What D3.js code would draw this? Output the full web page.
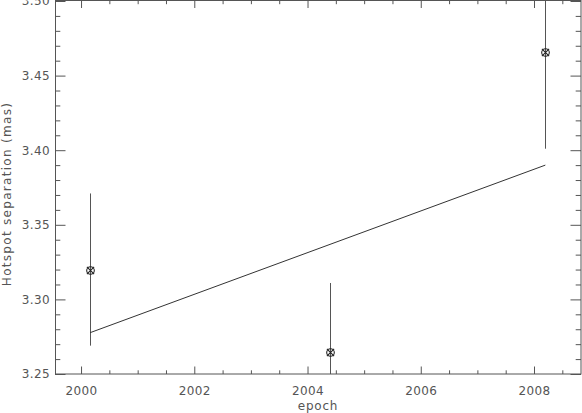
<!DOCTYPE html>
<html>
<head>
<meta charset="utf-8">
<script src="https://cdn.jsdelivr.net/npm/d3@7"></script>
<style>
  body { margin: 0; background: #fff; }
  text { font-family: "DejaVu Sans", sans-serif; }
</style>
</head>
<body>
<svg id="chart" width="582" height="413"></svg>
<script>
// measured hotspot separations
const epochs = [2000.16, 2004.40, 2008.20];
const separations = [3.320, 3.265, 3.466];
const errors = [0.051, 0.046, 0.065];

// linear fit, drawn between first and last epoch
const fitEpochs = [2000.16, 2008.20];
const fitValues = [3.2777, 3.390];

const xMajor = [2000, 2002, 2004, 2006, 2008];
const yMajor = [3.25, 3.30, 3.35, 3.40, 3.45, 3.50];

const plotLeft = 55, plotRight = 581, plotTop = 1, plotBottom = 374;
const axisColor = "#555";

const svg = d3.select("#chart");

const xScale = d3.scaleLinear()
  .domain([1999.54, 2008.83])
  .range([plotLeft, plotRight]);

const yScale = d3.scaleLinear()
  .domain([3.25, 3.50])
  .range([plotBottom, plotTop]);

const xMinor = d3.range(1999.5, 2009, 0.5).filter(v => xMajor.indexOf(v) < 0 && v > 1999.54 && v < 2008.83);
const yMinor = d3.range(3.26, 3.50, 0.01).map(v => +v.toFixed(2)).filter(v => yMajor.indexOf(v) < 0);

svg.append("clipPath")
  .attr("id", "plot-clip")
  .append("rect")
  .attr("x", plotLeft)
  .attr("y", 0)
  .attr("width", plotRight - plotLeft)
  .attr("height", plotBottom);

function styleAxis(g) {
  g.select(".domain").remove();
  g.selectAll("line").attr("stroke", axisColor);
  g.selectAll("text")
    .attr("fill", axisColor)
    .style("font-size", "12px")
    .style("letter-spacing", "0.4px");
}

// bottom axis
svg.append("g")
  .attr("transform", `translate(0, ${plotBottom})`)
  .call(d3.axisBottom(xScale).tickValues(xMajor).tickFormat(d3.format("d"))
    .tickSizeInner(-7.5).tickSizeOuter(0).tickPadding(12))
  .call(styleAxis);
svg.append("g")
  .attr("transform", `translate(0, ${plotBottom})`)
  .call(d3.axisBottom(xScale).tickValues(xMinor).tickFormat("")
    .tickSizeInner(-3.7).tickSizeOuter(0))
  .call(styleAxis);

// top axis
svg.append("g")
  .attr("transform", `translate(0, 0.5)`)
  .call(d3.axisTop(xScale).tickValues(xMajor).tickFormat("")
    .tickSizeInner(-7.5).tickSizeOuter(0))
  .call(styleAxis);
svg.append("g")
  .attr("transform", `translate(0, 0.5)`)
  .call(d3.axisTop(xScale).tickValues(xMinor).tickFormat("")
    .tickSizeInner(-3.7).tickSizeOuter(0))
  .call(styleAxis);

// left axis
svg.append("g")
  .attr("transform", `translate(${plotLeft}, 0)`)
  .call(d3.axisLeft(yScale).tickValues(yMajor).tickFormat(d3.format(".2f"))
    .tickSizeInner(-10.5).tickSizeOuter(0).tickPadding(5))
  .call(styleAxis);
svg.append("g")
  .attr("transform", `translate(${plotLeft}, 0)`)
  .call(d3.axisLeft(yScale).tickValues(yMinor).tickFormat("")
    .tickSizeInner(-5.3).tickSizeOuter(0))
  .call(styleAxis);

// right axis
svg.append("g")
  .attr("transform", `translate(${plotRight}, 0)`)
  .call(d3.axisRight(yScale).tickValues(yMajor).tickFormat("")
    .tickSizeInner(-10.5).tickSizeOuter(0))
  .call(styleAxis);
svg.append("g")
  .attr("transform", `translate(${plotRight}, 0)`)
  .call(d3.axisRight(yScale).tickValues(yMinor).tickFormat("")
    .tickSizeInner(-5.3).tickSizeOuter(0))
  .call(styleAxis);

// frame
svg.append("rect")
  .attr("x", plotLeft + 0.5)
  .attr("y", 0.5)
  .attr("width", plotRight - plotLeft - 0.5)
  .attr("height", plotBottom - 0.5)
  .attr("fill", "none")
  .attr("stroke", axisColor);

const plot = svg.append("g").attr("clip-path", "url(#plot-clip)");

const points = epochs.map((e, i) => ({ x: e, y: separations[i], err: errors[i] }));

// error bars
plot.selectAll(".err")
  .data(points)
  .enter().append("line")
  .attr("class", "err")
  .attr("x1", d => Math.round(xScale(d.x)) + 0.5)
  .attr("x2", d => Math.round(xScale(d.x)) + 0.5)
  .attr("y1", d => yScale(d.y + d.err))
  .attr("y2", d => yScale(d.y - d.err))
  .attr("stroke", "#555")
  .attr("stroke-width", 1);

// fit line
const line = d3.line()
  .x(d => xScale(d[0]))
  .y(d => yScale(d[1]));

plot.append("path")
  .datum(fitEpochs.map((e, i) => [e, fitValues[i]]))
  .attr("d", line)
  .attr("fill", "none")
  .attr("stroke", "#333")
  .attr("stroke-width", 1);

// markers: circle with a cross
const marks = plot.selectAll(".dot")
  .data(points)
  .enter().append("g")
  .attr("class", "dot")
  .attr("transform", d => `translate(${Math.round(xScale(d.x)) + 0.5}, ${Math.round(yScale(d.y)) + 0.5})`);

marks.append("circle")
  .attr("r", 3.8)
  .attr("fill", "none")
  .attr("stroke", "#222")
  .attr("stroke-width", 1.1);
marks.append("path")
  .attr("d", "M-3.6,-3.6L3.6,3.6M-3.6,3.6L3.6,-3.6")
  .attr("stroke", "#222")
  .attr("stroke-width", 1.1);

// axis titles
svg.append("text")
  .attr("x", 318)
  .attr("y", 410)
  .attr("text-anchor", "middle")
  .attr("fill", axisColor)
  .style("font-size", "12px")
  .style("letter-spacing", "0.8px")
  .text("epoch");

svg.append("text")
  .attr("transform", "translate(11, 194) rotate(-90)")
  .attr("text-anchor", "middle")
  .attr("fill", axisColor)
  .style("font-size", "12px")
  .style("letter-spacing", "1.3px")
  .text("Hotspot separation (mas)");
</script>
</body>
</html>
